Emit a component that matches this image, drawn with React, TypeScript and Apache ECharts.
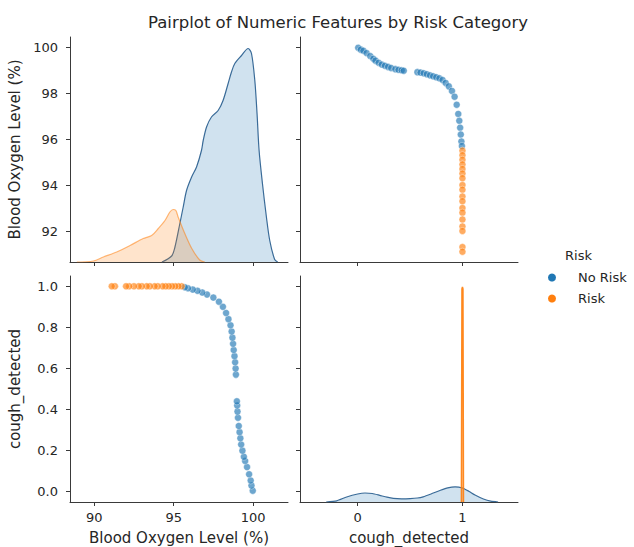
import React, { useEffect, useRef } from "react";
import * as echarts from "echarts";

// ---------- data ----------
const noRiskCough = [0.005, 0.03, 0.055, 0.085, 0.12, 0.15, 0.17, 0.2, 0.23, 0.26, 0.29, 0.32, 0.36, 0.39, 0.42, 0.44, 0.57, 0.6, 0.63, 0.66, 0.69, 0.72, 0.75, 0.78, 0.81, 0.84, 0.87, 0.9, 0.925, 0.945, 0.96, 0.97, 0.978, 0.984, 0.99, 0.995];
const noRiskOxygen = [99.98, 99.9, 99.85, 99.75, 99.62, 99.5, 99.42, 99.33, 99.25, 99.2, 99.15, 99.1, 99.05, 99.02, 99.0, 98.98, 98.92, 98.9, 98.87, 98.83, 98.78, 98.74, 98.7, 98.65, 98.58, 98.45, 98.3, 98.1, 97.85, 97.5, 97.1, 96.8, 96.5, 96.2, 95.9, 95.7];
const riskOxygen = [95.5, 95.3, 95.1, 94.9, 94.7, 94.5, 94.3, 94.0, 93.8, 93.5, 93.3, 93.0, 92.8, 92.5, 92.2, 92.0, 91.3, 91.1];
const riskCough = [1, 1, 1, 1, 1, 1, 1, 1, 1, 1, 1, 1, 1, 1, 1, 1, 1, 1];

// KDE of Blood Oxygen Level by risk (density)
const kdeOxyNoRiskX = [94.26, 94.87, 95.08, 95.39, 95.6, 95.81, 96.13, 96.44, 96.75, 96.86, 97.07, 97.38, 97.8, 98.11, 98.43, 98.64, 98.85, 99.27, 99.69, 99.9, 100.11, 100.25, 100.38, 100.59, 100.84, 101.05, 101.36, 101.55];
const kdeOxyNoRiskY = [0, 0.012, 0.03, 0.077, 0.11, 0.143, 0.17, 0.19, 0.223, 0.243, 0.27, 0.29, 0.303, 0.323, 0.357, 0.38, 0.397, 0.413, 0.427, 0.417, 0.363, 0.297, 0.223, 0.157, 0.09, 0.043, 0.005, 0];
const kdeOxyRiskX = [88.9, 89.94, 90.57, 91.41, 92.25, 93.08, 93.61, 94.03, 94.45, 94.76, 94.97, 95.14, 95.28, 95.7, 96.14, 96.64, 96.96];
const kdeOxyRiskY = [0, 0.002, 0.01, 0.02, 0.033, 0.047, 0.053, 0.067, 0.083, 0.1, 0.105, 0.103, 0.09, 0.057, 0.027, 0.004, 0];

// KDE of cough_detected by risk (density)
const kdeCoughNoRiskX = [-0.3, -0.2, -0.105, 0.0, 0.07, 0.14, 0.21, 0.28, 0.34, 0.42, 0.5, 0.57, 0.625, 0.7, 0.79, 0.86, 0.93, 1.0, 1.06, 1.12, 1.2, 1.27, 1.34];
const kdeCoughNoRiskY = [0, 0.012, 0.05, 0.08, 0.09, 0.085, 0.067, 0.048, 0.036, 0.032, 0.034, 0.04, 0.052, 0.08, 0.117, 0.142, 0.152, 0.14, 0.108, 0.07, 0.03, 0.008, 0];
const kdeCoughRiskX = [0.99, 0.995, 1.0, 1.005, 1.01];
const kdeCoughRiskY = [0, 2.13, 2.15, 2.13, 0];

const oxygenTicks = [92, 94, 96, 98, 100];
const oxygenXTicks = [90, 95, 100];
const coughYTicks = [0, 0.2, 0.4, 0.6, 0.8, 1.0];
const coughXTicks = [0, 1];

const BLUE = "#1f77b4";
const ORANGE = "#ff7f0e";
const FONT = "DejaVu Sans";
const TXT = "#262626";
const AX = "#3a3a3a";

const zip = (a: number[], b: number[]) => a.map((v, i) => [v, b[i]]);

function axisBase(min: number, max: number, ticks: number[], showLabels: boolean, margin: number, fmt?: (v: number) => string) {
  return {
    type: "value",
    min,
    max,
    splitLine: { show: false },
    axisLine: { show: true, onZero: false, lineStyle: { color: AX, width: 1 } },
    axisTick: { show: true, length: 4, lineStyle: { color: AX, width: 1 }, customValues: ticks },
    axisLabel: {
      show: showLabels,
      customValues: ticks,
      color: TXT,
      fontFamily: FONT,
      fontSize: 13,
      margin,
      formatter: fmt ? (v: number) => fmt(v) : (v: number) => String(v),
    },
  };
}

export default function App() {
  const ref = useRef<HTMLDivElement>(null);
  useEffect(() => {
    if (!ref.current) return;
    const chart = echarts.init(ref.current, null, { renderer: "svg" });
    const OXY_MIN = 90.65, OXY_MAX = 100.45;
    const OX_X_MIN = 88.47, OX_X_MAX = 102.2;
    const C_X_MIN = -0.55, C_X_MAX = 1.53;
    const C_Y_MIN = -0.05, C_Y_MAX = 1.05;
    const nameStyle = { color: TXT, fontFamily: FONT, fontSize: 15 };

    const scatterStyle = (c: string) => ({ color: c, opacity: 0.65, borderColor: "#ffffff", borderWidth: 0.6 });

    const option: any = {
      animation: false,
      backgroundColor: "#ffffff",
      title: {
        text: "Pairplot of Numeric Features by Risk Category",
        left: 333,
        top: 9,
        textAlign: "center",
        textStyle: { color: TXT, fontFamily: FONT, fontSize: 16.5, fontWeight: "normal" },
      },
      legend: {
        orient: "vertical",
        left: 543,
        top: 266,
        itemWidth: 8,
        itemHeight: 8,
        itemGap: 8,
        selectedMode: false,
        textStyle: { color: TXT, fontFamily: FONT, fontSize: 13, padding: [0, 0, 0, 17] },
        data: [
          { name: "No Risk", icon: "circle", itemStyle: { color: BLUE, opacity: 1 } },
          { name: "Risk", icon: "circle", itemStyle: { color: ORANGE, opacity: 1 } },
        ],
      },
      graphic: [
        {
          type: "text",
          left: 565,
          top: 249,
          style: { text: "Risk", fill: TXT, font: `13px "${FONT}"` },
        },
      ],
      grid: [
        { left: 70, top: 37, width: 218, height: 225 },
        { left: 300, top: 37, width: 218, height: 225 },
        { left: 70, top: 276, width: 218, height: 226 },
        { left: 300, top: 276, width: 218, height: 226 },
      ],
      xAxis: [
        { ...axisBase(OX_X_MIN, OX_X_MAX, oxygenXTicks, false, 9), gridIndex: 0 },
        { ...axisBase(C_X_MIN, C_X_MAX, coughXTicks, false, 9), gridIndex: 1 },
        {
          ...axisBase(OX_X_MIN, OX_X_MAX, oxygenXTicks, true, 9),
          gridIndex: 2,
          name: "Blood Oxygen Level (%)",
          nameLocation: "middle",
          nameGap: 28,
          nameTextStyle: nameStyle,
        },
        {
          ...axisBase(C_X_MIN, C_X_MAX, coughXTicks, true, 9),
          gridIndex: 3,
          name: "cough_detected",
          nameLocation: "middle",
          nameGap: 28,
          nameTextStyle: nameStyle,
        },
      ],
      yAxis: [
        {
          ...axisBase(OXY_MIN, OXY_MAX, oxygenTicks, true, 12),
          gridIndex: 0,
          name: "Blood Oxygen Level (%)",
          nameLocation: "middle",
          nameGap: 48,
          nameRotate: 90,
          nameTextStyle: nameStyle,
        },
        { type: "value", gridIndex: 0, min: 0, max: 0.45, show: false, position: "right" },
        { ...axisBase(OXY_MIN, OXY_MAX, oxygenTicks, false, 12), gridIndex: 1 },
        {
          ...axisBase(C_Y_MIN, C_Y_MAX, coughYTicks, true, 12, (v) => v.toFixed(1)),
          gridIndex: 2,
          name: "cough_detected",
          nameLocation: "middle",
          nameGap: 48,
          nameRotate: 90,
          nameTextStyle: nameStyle,
        },
        { ...axisBase(C_Y_MIN, C_Y_MAX, coughYTicks, false, 12), gridIndex: 3 },
        { type: "value", gridIndex: 3, min: 0, max: 2.26, show: false, position: "right" },
      ],
      series: [
        {
          name: "No Risk",
          type: "line",
          xAxisIndex: 0,
          yAxisIndex: 1,
          data: zip(kdeOxyNoRiskX, kdeOxyNoRiskY),
          smooth: 0.3,
          symbol: "none",
          lineStyle: { color: "#3a6b98", width: 1.2 },
          areaStyle: { color: "rgba(31,119,180,0.3)" },
          z: 2,
        },
        {
          name: "Risk",
          type: "line",
          xAxisIndex: 0,
          yAxisIndex: 1,
          data: zip(kdeOxyRiskX, kdeOxyRiskY),
          smooth: 0.3,
          symbol: "none",
          lineStyle: { color: "rgba(255,127,14,0.55)", width: 1.2 },
          areaStyle: { color: "rgba(255,127,14,0.3)" },
          z: 3,
        },
        {
          name: "No Risk",
          type: "scatter",
          xAxisIndex: 1,
          yAxisIndex: 2,
          symbolSize: 7,
          data: zip(noRiskCough, noRiskOxygen),
          itemStyle: scatterStyle(BLUE),
        },
        {
          name: "Risk",
          type: "scatter",
          xAxisIndex: 1,
          yAxisIndex: 2,
          symbolSize: 7,
          data: zip(riskCough, riskOxygen),
          itemStyle: scatterStyle(ORANGE),
        },
        {
          name: "No Risk",
          type: "scatter",
          xAxisIndex: 2,
          yAxisIndex: 3,
          symbolSize: 7,
          data: zip(noRiskOxygen, noRiskCough),
          itemStyle: scatterStyle(BLUE),
        },
        {
          name: "Risk",
          type: "scatter",
          xAxisIndex: 2,
          yAxisIndex: 3,
          symbolSize: 7,
          data: zip(riskOxygen, riskCough),
          itemStyle: scatterStyle(ORANGE),
        },
        {
          name: "No Risk",
          type: "line",
          xAxisIndex: 3,
          yAxisIndex: 5,
          data: zip(kdeCoughNoRiskX, kdeCoughNoRiskY),
          smooth: 0.2,
          symbol: "none",
          lineStyle: { color: "#3a6b98", width: 1.2 },
          areaStyle: { color: "rgba(31,119,180,0.3)" },
          z: 2,
        },
        {
          name: "Risk",
          type: "line",
          xAxisIndex: 3,
          yAxisIndex: 5,
          data: zip(kdeCoughRiskX, kdeCoughRiskY),
          smooth: false,
          symbol: "none",
          lineStyle: { color: "rgba(255,127,14,0.9)", width: 1.5 },
          areaStyle: { color: "rgba(255,127,14,0.6)" },
          z: 3,
        },
      ],
    };
    chart.setOption(option);
    return () => chart.dispose();
  }, []);
  return (
    <div
      ref={ref}
      style={{ position: "absolute", left: 0, top: 0, width: 634, height: 547, background: "#fff" }}
    />
  );
}
